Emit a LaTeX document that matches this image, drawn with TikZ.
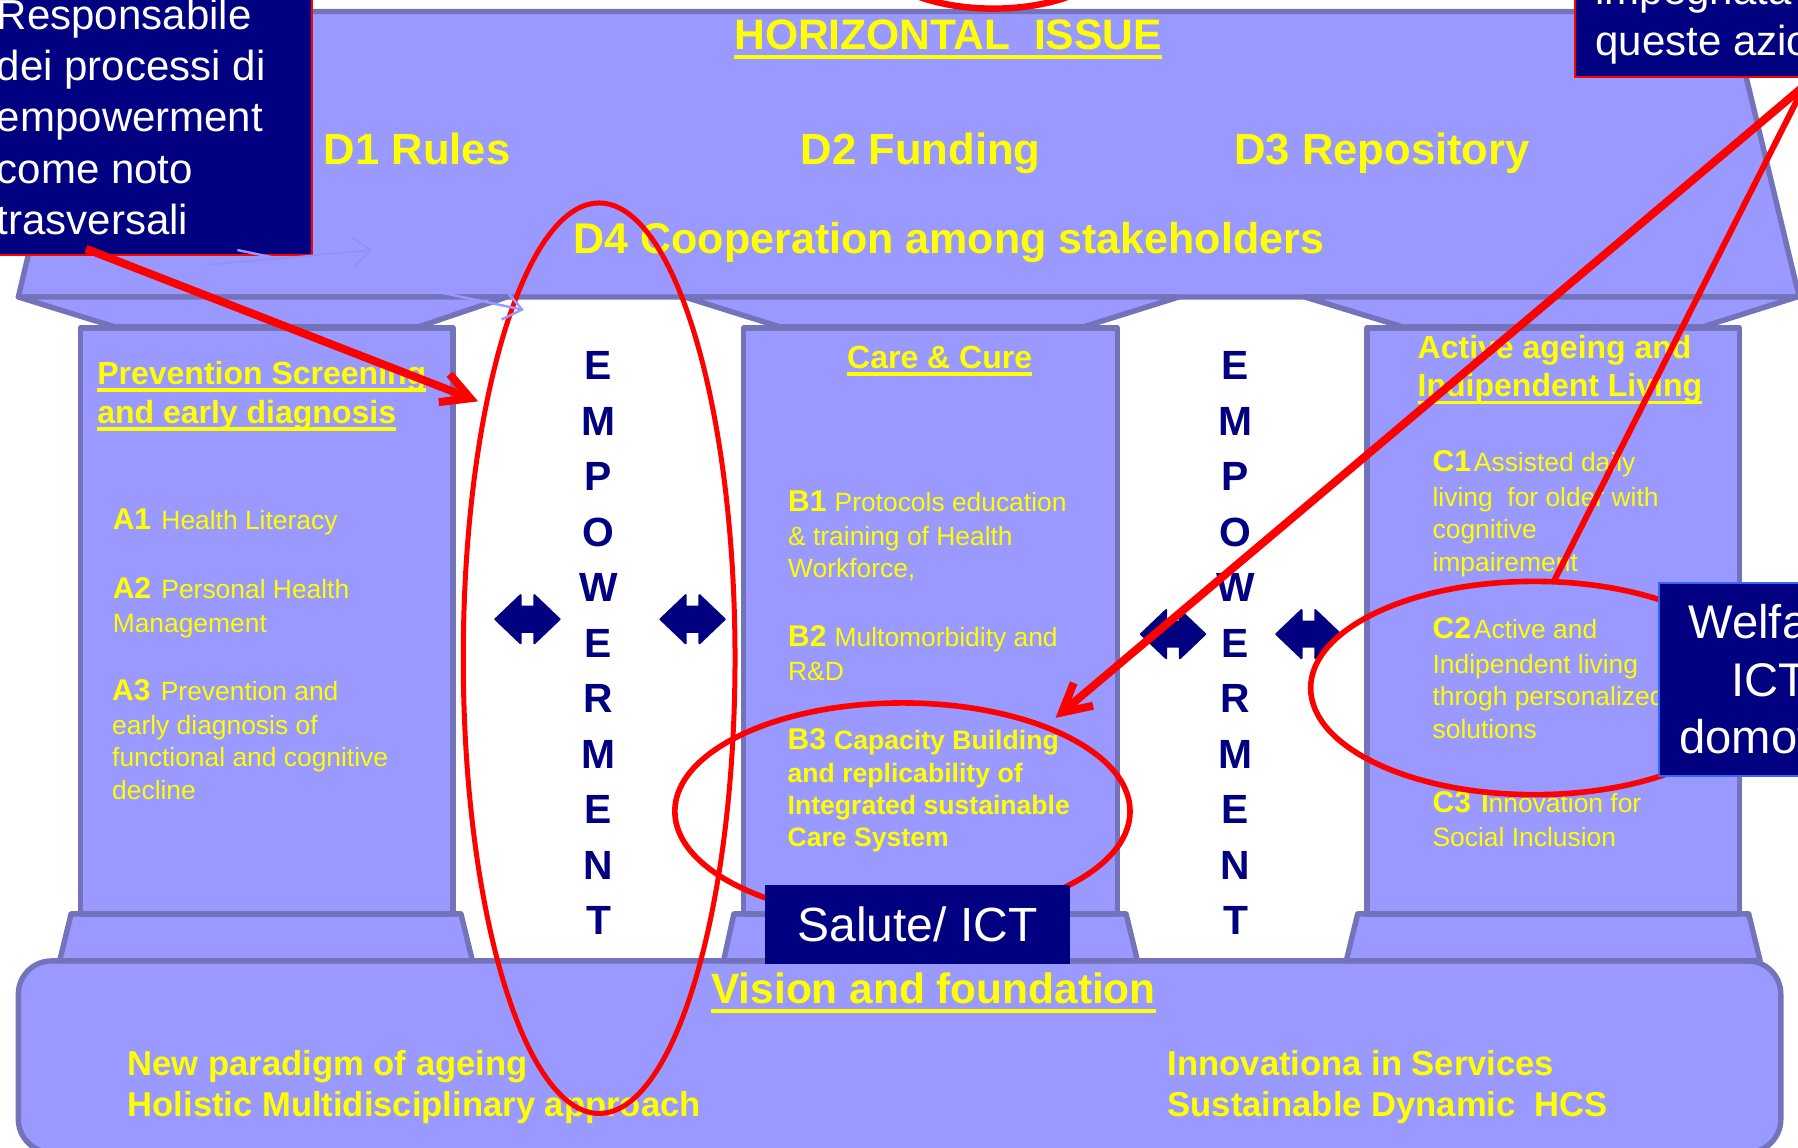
\documentclass[tikz,border=0pt]{standalone}
\usepackage{fontspec}
\setmainfont{Liberation Sans}
\usetikzlibrary{arrows.meta}
\definecolor{lilac}{HTML}{9999FF}
\definecolor{edgeblue}{HTML}{7373BC}
\definecolor{navyb}{HTML}{000080}
\definecolor{yel}{HTML}{FFFF00}
\definecolor{redl}{HTML}{FF0000}
\definecolor{faintA}{HTML}{9999FF}
\definecolor{faintB}{HTML}{9090F6}
\definecolor{bordb}{HTML}{3366FF}
\newcommand\yul[1]{\leavevmode\setbox0\hbox{#1}\rlap{\rule[-.235em]{\wd0}{.105em}}\box0}
\newcommand\lab[1]{{\fontsize{15}{16.2}\selectfont\bfseries #1}}
\tikzset{
  x=0.57335pt,y=-0.57335pt,
  temple/.style={draw=edgeblue,fill=lilac,line width=2.7pt,line join=round},
  txt/.style={inner sep=0pt,anchor=base west,align=left,text=yel},
  big/.style={txt,font=\fontsize{21.8}{26}\selectfont\bfseries},
  bigb/.style={txt,font=\fontsize{21.2}{26}\selectfont\bfseries},
  coltitle/.style={txt,font=\fontsize{16}{19.5}\selectfont\bfseries},
  body/.style={txt,font=\fontsize{13.2}{16.2}\selectfont},
  boldbody/.style={txt,font=\fontsize{13.2}{16.2}\selectfont\bfseries},
  found/.style={txt,font=\fontsize{17.3}{20.6}\selectfont\bfseries},
  letters/.style={inner sep=0pt,anchor=base,align=center,text=navyb,font=\fontsize{20.4}{27.75}\selectfont\bfseries},
  ring/.style={draw=redl,line width=2.5pt},
  redarrow/.style={draw=redl,line width=4pt,-{Straight Barb[length=14pt,width=15pt,line width=4pt]}},
  navybox/.style={fill=navyb,draw=redl,line width=1pt},
  calltext/.style={inner sep=0pt,anchor=base west,align=left,text=white,font=\fontsize{21}{25.6}\selectfont},
  solid box/.style={fill=navyb,inner sep=0pt,text=white,align=center},
  dblarrow/.pic={\fill[navyb,draw=navyb,line width=1pt,line join=round]
     (-28,0)--(-6,-21)--(-6,-11)--(6,-11)--(6,-21)--(28,0)--(6,21)--(6,11)--(-6,11)--(-6,21)--cycle;},
}
\begin{document}
\begin{tikzpicture}
\path[use as bounding box,clip] (0,0) rectangle (1568,1000.3);
\fill[white] (0,0) rectangle (1568,1000.3);
% foundation and bases
\draw[temple,rounded corners=16.6pt] (16,838) rectangle (1553,1005);
\draw[temple] (62,797)--(402,797)--(412,838)--(52,838)--cycle;
\draw[temple] (640,797)--(982,797)--(992,838)--(631,838)--cycle;
\draw[temple] (1184,797)--(1525,797)--(1535,838)--(1174,838)--cycle;
% roof and capitals
\draw[temple] (75,10)--(1509,10)--(1569,259)--(16,259)--cycle;
\draw[temple] (16,259)--(442,259)--(365,285)--(100,285)--cycle;
\draw[temple] (597,259)--(1028,259)--(945,285)--(680,285)--cycle;
\draw[temple] (1138,259)--(1567,259)--(1485,285)--(1223,285)--cycle;
% columns
\draw[temple] (70,286) rectangle (395,797);
\draw[temple] (648.5,286) rectangle (974.5,797);
\draw[temple] (1192,286) rectangle (1517,797);
% roof text
\node[txt,font=\fontsize{21.3}{26}\selectfont\bfseries] (horiz) at (640,43) {\yul{HORIZONTAL\ \ ISSUE}};
\node[big] (d1) at (282,143.5) {D1 Rules};
\node[big] (d2) at (698,143.5) {D2 Funding};
\node[big] (d3) at (1076,143.5) {D3 Repository};
\node[big,font=\fontsize{21.5}{26}\selectfont\bfseries] (d4) at (500,221) {D4 Cooperation among stakeholders};
% column 1
\node[coltitle] (t1a) at (84.5,335) {\yul{Prevention Screening}};
\node[coltitle] (t1b) at (84.5,369) {\yul{and early diagnosis}};
\node[body] (a1) at (98,462) {\lab{A1} \kern1.5pt Health Literacy};
\node[body] (a2) at (98,552) {\lab{A2} \kern1.5pt Personal Health\\[1pt]Management};
\node[body] (a3) at (97.5,697) {\lab{A3} \kern1.5pt Prevention and\\[1pt]early diagnosis of\\functional and cognitive\\decline};
% column 2
\node[coltitle] (t2) at (738.5,321) {\yul{Care \& Cure}};
\node[body] (b1) at (687,504) {\lab{B1} \kern.4pt Protocols education\\[1pt]\& training of Health\\Workforce,};
\node[body] (b2) at (687,593.5) {\lab{B2} \kern.4pt Multomorbidity and\\[1pt]R\&D};
\node[boldbody,font=\fontsize{13.3}{16.2}\selectfont\bfseries] (b3) at (686.5,738.5) {\lab{B3} \kern.4pt Capacity Building\\and replicability of\\Integrated sustainable\\Care System};
% column 3
\node[coltitle] (t3a) at (1236,312.5) {Active ageing and};
\node[coltitle] (t3b) at (1236,346) {\yul{Indipendent Living}};
\node[body] (c1) at (1249,498) {\lab{C1}\kern1.5pt Assisted daily\\[1pt]living\ \ for older with\\cognitive\\impairement};
\node[body] (c2) at (1249,643.7) {\lab{C2}\kern1.5pt Active and\\[1pt]Indipendent living\\throgh personalized\\solutions};
\node[body] (c3) at (1249,738.5) {\lab{C3} \kern1.5pt{\bfseries I}nnovation for\\[1pt]Social Inclusion};
% empowerment
\node[letters] (emp1) at (522,815) {E\\M\\P\\O\\W\\E\\R\\M\\E\\N\\T};
\node[letters] (emp2) at (1077.5,815) {E\\M\\P\\O\\W\\E\\R\\M\\E\\N\\T};
\pic at (460,540) {dblarrow};
\pic at (604,540) {dblarrow};
\pic at (1023,553) {dblarrow};
\pic at (1141,553) {dblarrow};
% foundation text
\node[bigb] (vision) at (620,875) {\yul{Vision and foundation}};
\node[found] (f1a) at (111,938) {New paradigm of ageing};
\node[found] (f1b) at (111,974) {Holistic Multidisciplinary approach};
\node[found] (f2a) at (1018,938) {Innovationa in Services};
\node[found] (f2b) at (1018,974) {Sustainable Dynamic\ \ HCS};
% red rings
\draw[ring] (522.5,574) ellipse [x radius=118.5,y radius=397];
\draw[ring,line width=2.8pt] (787,707.5) ellipse [x radius=198.5,y radius=94.5];
\draw[ring,line width=2.8pt] (1338,600) ellipse [x radius=195,y radius=93];
\draw[ring,line width=3.2pt] (866.4,-40.5) ellipse [x radius=105,y radius=48];
% callouts
\draw[navybox] (-20,-20) rectangle (272,222.5);
\node[calltext] (resp) at (-3,204.4) {Responsabile\\dei processi di\\empowerment\\come noto\\trasversali};
\draw[navybox] (1373.5,-20) rectangle (1620,67);
\node[calltext] (impeg) at (1391,48.7) {impegnata\\queste azioni};
\node[solid box,minimum width=152.2pt,minimum height=39.4pt,font=\fontsize{24}{28}\selectfont] (salute) at (800.25,806.3) {Salute/ ICT};
\node[solid box,draw=bordb,line width=1pt,minimum width=110.7pt,minimum height=96.3pt,font=\fontsize{23.6}{28.7}\selectfont] (welfare) at (1543,592.5) {Welfare\\ICT\\\hspace{5.7pt}domotica};
% connectors
\coordinate (s1) at (75,217);
\coordinate (e1) at (417,350);
\coordinate (s2) at (1610,44);
\coordinate (e2) at (920.5,626);
\coordinate (s3) at (1582,58);
\coordinate (e3) at (1355,507);
\draw[redarrow] (s1) -- (e1);
\draw[redarrow] (s2) -- (e2);
\draw[draw=redl,line width=3pt] (s3) -- (e3);
\coordinate (fa1) at (207,218);
\coordinate (fa2) at (457,270.3);
\coordinate (fb1) at (180,231);
\coordinate (fb2) at (324.6,218);
\draw[faintA,line width=1.2pt,-{Straight Barb[length=9pt,width=14pt,line width=1.2pt]}] (fa1) -- (fa2);
\draw[faintB,line width=.8pt,-{Straight Barb[length=9pt,width=14pt,line width=.8pt]}] (fb1) -- (fb2);
\end{tikzpicture}
\end{document}
